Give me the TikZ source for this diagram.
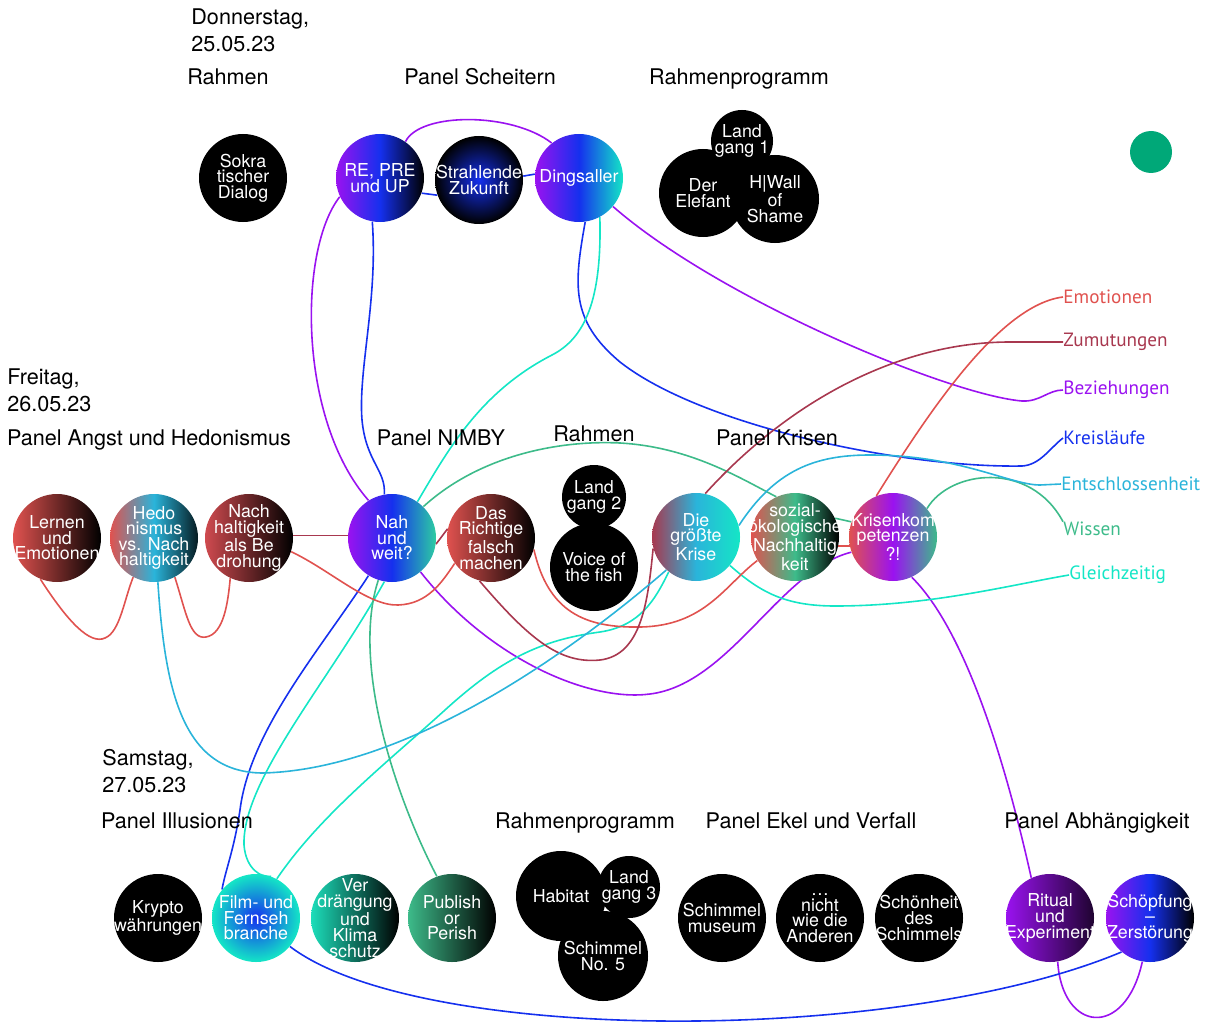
\documentclass[tikz,border=0pt]{standalone}
\usepackage{fontspec}
\setmainfont{TeX Gyre Heros}
\newfontfamily\topicfont{PT Sans}
\usetikzlibrary{backgrounds}

\definecolor{cred}{HTML}{E0524F}
\definecolor{cwine}{HTML}{A8384F}
\definecolor{cviolet}{HTML}{9A12F0}
\definecolor{cblue}{HTML}{1530EE}
\definecolor{ccyan}{HTML}{2AB4DA}
\definecolor{cgreen}{HTML}{3DBB8A}
\definecolor{cteal}{HTML}{14E6C6}
\definecolor{cdot}{HTML}{00A878}

\tikzset{
  talk/.style={circle,minimum size=44pt,inner sep=0pt},
  blk/.style={talk,fill=black},
  say/.style={inner sep=0pt,text=white,align=center,font=\fontsize{8.9}{7.8}\selectfont},
  dayhead/.style={anchor=north west,inner sep=0pt,align=left,font=\fontsize{10.8}{13.5}\selectfont},
  panelhead/.style={anchor=base,inner sep=0pt,font=\fontsize{10.8}{13}\selectfont},
  topic/.style={anchor=west,inner sep=0pt,font=\topicfont\fontsize{9.6}{12}\selectfont},
  thread/.style={line width=0.8pt}
}

\begin{document}
\begin{tikzpicture}[x=0.5pt,y=-0.5pt]
  \useasboundingbox (0,0) rectangle (1213,1027);
  % Donnerstag
  \node[dayhead] (thu) at (191,8) {Donnerstag,\\25.05.23};
  \node[panelhead] (thuA) at (228,85) {Rahmen};
  \node[panelhead] (thuB) at (480,85) {Panel Scheitern};
  \node[panelhead] (thuC) at (739,85) {Rahmenprogramm};
  \node[blk,label={[say]center:{Sokra\\tischer\\Dialog}}] (sokra) at (243,178) {};
  \node[talk,left color=cviolet,right color=black,middle color=cblue,label={[say]center:{RE, PRE\\und UP}}] (repre) at (380,178) {};
  \node[talk,inner color=cblue,outer color=black,label={[say]center:{Strahlende\\Zukunft}}] (strahl) at (479,180) {};
  \node[talk,left color=cviolet,right color=cteal,middle color=cblue,label={[say]center:{Dingsaller}}] (dings) at (579,178) {};
  \node[blk,label={[say]center:{Der\\Elefant}}] (elefant) at (703,193) {};
  \node[blk,label={[say]center:{H|Wall\\of\\Shame}}] (wall) at (775,199) {};
  \node[blk,minimum size=31pt,label={[say]center:{Land\\gang 1}}] (land1) at (742,141) {};
  \node[circle,fill=cdot,minimum size=21pt,inner sep=0pt] (dot) at (1151,152) {};
  % Freitag
  \node[dayhead] (fri) at (7,368) {Freitag,\\26.05.23};
  \node[panelhead] (friA) at (149,445) {Panel Angst und Hedonismus};
  \node[panelhead] (friB) at (441,445) {Panel NIMBY};
  \node[panelhead] (friC) at (594,441) {Rahmen};
  \node[panelhead] (friD) at (777,445) {Panel Krisen};
  \node[talk,left color=cred,right color=black,label={[say]center:{Lernen\\und\\Emotionen}}] (lernen) at (57,538) {};
  \node[talk,left color=cred,right color=black!85!ccyan,middle color=ccyan,label={[say]center:{Hedo\\nismus\\vs. Nach\\haltigkeit}}] (hedo) at (154,538) {};
  \node[talk,left color=cred!70!cwine,right color=black,label={[say]center:{Nach\\haltigkeit\\als Be\\drohung}}] (nachbe) at (249,538) {};
  \node[talk,left color=cviolet,right color=cgreen!60!cteal,middle color=cblue,label={[say]center:{Nah\\und\\weit?}}] (nah) at (392,538) {};
  \node[talk,left color=cred,right color=black,label={[say]center:{Das\\Richtige\\falsch\\machen}}] (richtig) at (491,538) {};
  \node[blk,label={[say]center:{Voice of\\the fish}}] (voice) at (594,567) {};
  \node[blk,minimum size=32pt,label={[say]center:{Land\\gang 2}}] (land2) at (594,497) {};
  \node[talk,left color=cwine,right color=cteal,middle color=ccyan,label={[say]center:{Die\\größte\\Krise}}] (krise) at (696,537) {};
  \node[talk,left color=cred,right color=black,middle color=cgreen,label={[say]center:{sozial-\\ökologische\\Nachhaltig\\keit}}] (sozial) at (795,537) {};
  \node[talk,left color=cred,right color=cgreen,middle color=cviolet,label={[say]center:{Krisenkom\\petenzen\\?!}}] (kompet) at (893,537) {};
  % threads on the right
  \node[topic,text=cred] (emo) at (1063,297) {Emotionen};
  \node[topic,text=cwine] (zum) at (1063,342) {Zumutungen};
  \node[topic,text=cviolet] (bez) at (1063,390) {Beziehungen};
  \node[topic,text=cblue] (kreis) at (1063,438) {Kreisläufe};
  \node[topic,text=ccyan] (ent) at (1061,484) {Entschlossenheit};
  \node[topic,text=cgreen] (wissen) at (1063,529) {Wissen};
  \node[topic,text=cteal] (gleich) at (1069,575) {Gleichzeitig};
  % Samstag
  \node[dayhead] (sat) at (102,749) {Samstag,\\27.05.23};
  \node[panelhead] (satA) at (177,828) {Panel Illusionen};
  \node[panelhead] (satB) at (585,828) {Rahmenprogramm};
  \node[panelhead] (satC) at (811,828) {Panel Ekel und Verfall};
  \node[panelhead] (satD) at (1097,828) {Panel Abhängigkeit};
  \node[blk,label={[say]center:{Krypto\\währungen}}] (krypto) at (158,918) {};
  \node[talk,inner color=cblue,outer color=cteal,label={[say]center:{Film- und\\Fernseh\\branche}}] (film) at (256,918) {};
  \node[talk,left color=cteal!80!cgreen,right color=black,label={[say]center:{Ver\\drängung\\und\\Klima\\schutz}}] (verdr) at (355,918) {};
  \node[talk,left color=cgreen,right color=black,label={[say]center:{Publish\\or\\Perish}}] (publish) at (452,918) {};
  \node[blk,minimum size=45pt,label={[say]center:{Habitat}}] (habitat) at (561,896) {};
  \node[blk,minimum size=45pt,label={[say]center:{Schimmel\\No. 5}}] (schim5) at (603,956) {};
  \node[blk,minimum size=31pt,label={[say]center:{Land\\gang 3}}] (land3) at (629,887) {};
  \node[blk,label={[say]center:{Schimmel\\museum}}] (museum) at (722,918) {};
  \node[blk,label={[say]center:{\dots\\nicht\\wie die\\Anderen}}] (nicht) at (820,918) {};
  \node[blk,label={[say]center:{Schönheit\\des\\Schimmels}}] (schoen) at (919,918) {};
  \node[talk,left color=cviolet,right color=black!80!cviolet,label={[say]center:{Ritual\\und\\Experiment}}] (ritual) at (1050,918) {};
  \node[talk,left color=cviolet,right color=black,middle color=cblue,label={[say]center:{Schöpfung\\–\\Zerstörung}}] (schoepf) at (1150,918) {};

  \begin{scope}[on background layer]
    % Beziehungen
    \draw[thread,cviolet] (repre.55) .. controls (420,112) and (512,112) .. (dings.128);
    \draw[thread,cviolet] (repre.205) .. controls (298,250) and (298,420) .. (nah.122);
    \draw[thread,cviolet] (dings.-40) .. controls (720,300) and (950,395) .. (1022,401) .. controls (1040,402) and (1048,390) .. (bez.west);
    \draw[thread,cviolet] (nah.-50) .. controls (490,660) and (590,702) .. (650,694) .. controls (730,684) and (780,570) .. (kompet.200);
    \draw[thread,cviolet] (kompet.-65) .. controls (965,630) and (1005,760) .. (ritual.115);
    \draw[thread,cviolet] (ritual.-80) .. controls (1062,1032) and (1125,1040) .. (schoepf.-100);
    % Kreislaeufe
    \draw[thread,cblue] (repre.-20) -- (strahl.200);
    \draw[thread,cblue] (strahl.5) -- (dings.175);
    \draw[thread,cblue] (repre.-100) .. controls (378,300) and (358,370) .. (362,420) .. controls (366,462) and (386,470) .. (nah.100);
    \draw[thread,cblue] (dings.-82) .. controls (574,285) and (570,320) .. (620,362) .. controls (700,425) and (900,468) .. (1022,466) .. controls (1040,465) and (1050,448) .. (kreis.west);
    \draw[thread,cblue] (nah.-122) .. controls (320,650) and (250,730) .. (240,810) .. controls (234,850) and (226,868) .. (film.140);
    \draw[thread,cblue] (film.-40) .. controls (420,1045) and (900,1045) .. (schoepf.-130);
    % Gleichzeitig
    \draw[thread,cteal] (dings.-62) .. controls (602,300) and (585,338) .. (552,355) .. controls (480,392) and (448,450) .. (nah.55);
    \draw[thread,cteal] (nah.-100) .. controls (330,680) and (242,780) .. (244,845) .. controls (246,870) and (262,878) .. (film.70);
    \draw[thread,cteal] (film.62) .. controls (320,815) and (390,760) .. (445,710) .. controls (500,660) and (540,640) .. (600,632) .. controls (640,626) and (655,600) .. (krise.-128);
    \draw[thread,cteal] (krise.-40) .. controls (760,592) and (785,606) .. (835,606) .. controls (930,606) and (1010,585) .. (gleich.west);
    % Wissen
    \draw[thread,cgreen] (nah.45) .. controls (480,455) and (560,440) .. (620,443) .. controls (690,447) and (740,478) .. (sozial.115);
    \draw[thread,cgreen] (sozial.25) -- (kompet.160);
    \draw[thread,cgreen] (kompet.40) .. controls (950,470) and (1030,460) .. (wissen.north west);
    \draw[thread,cgreen] (nah.-108) .. controls (352,660) and (392,790) .. (publish.110);
    % Emotionen
    \draw[thread,cred] (lernen.-112) .. controls (68,622) and (90,645) .. (105,638) .. controls (120,632) and (124,600) .. (hedo.-118);
    \draw[thread,cred] (hedo.-62) .. controls (186,612) and (190,640) .. (206,637) .. controls (224,634) and (228,602) .. (nachbe.-115);
    \draw[thread,cred] (nachbe.-18) .. controls (330,570) and (368,606) .. (398,605) .. controls (428,604) and (442,582) .. (richtig.-145);
    \draw[thread,cred] (richtig.-15) .. controls (548,612) and (585,628) .. (640,627) .. controls (705,626) and (725,585) .. (sozial.-148);
    \draw[thread,cred] (sozial.-12) -- (kompet.192);
    \draw[thread,cred] (kompet.112) .. controls (930,410) and (1000,305) .. (emo.west);
    % Zumutungen
    \draw[thread,cwine] (nachbe.3) -- (nah.177);
    \draw[thread,cwine] (nah.-8) -- (richtig.168);
    \draw[thread,cwine] (richtig.-105) .. controls (530,640) and (560,664) .. (600,660) .. controls (642,655) and (648,600) .. (krise.-165);
    \draw[thread,cwine] (krise.78) .. controls (790,400) and (900,342) .. (1010,342) -- (zum.west);
    % Entschlossenheit
    \draw[thread,ccyan] (hedo.-85) .. controls (165,690) and (182,772) .. (262,773) .. controls (400,770) and (560,662) .. (krise.-132);
    \draw[thread,ccyan] (krise.15) .. controls (775,470) and (815,455) .. (870,455) .. controls (960,455) and (1010,485) .. (1040,485) -- (ent.west);
  \end{scope}
\end{tikzpicture}
\end{document}
